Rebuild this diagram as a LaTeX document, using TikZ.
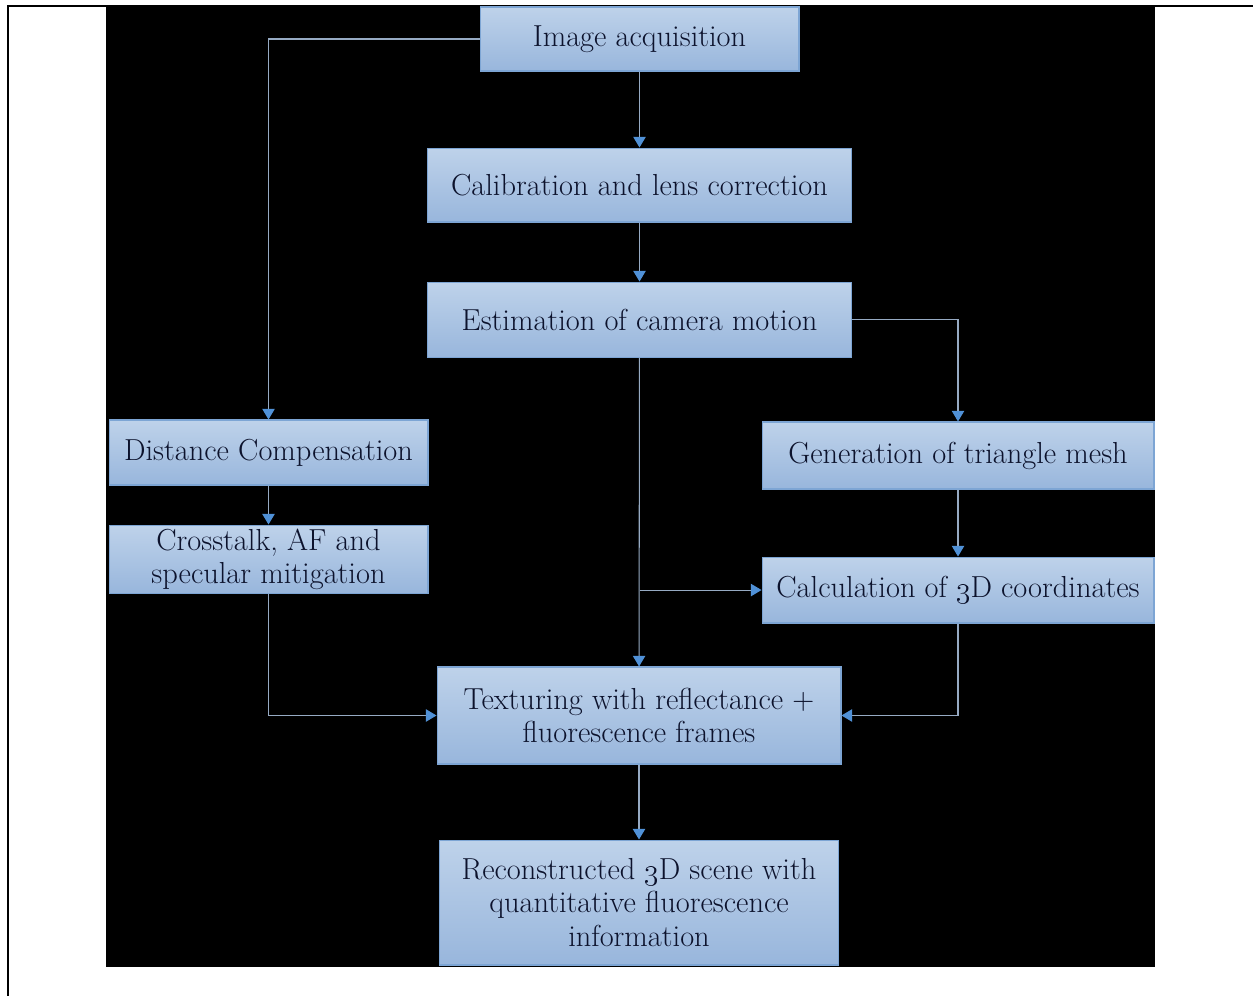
\documentclass[tikz,border=0pt]{standalone}
\usepackage{tikz}
\usetikzlibrary{arrows.meta, positioning}
\definecolor{boxtop}{RGB}{190,210,234}
\definecolor{boxbot}{RGB}{152,182,220}
\definecolor{boxedge}{RGB}{125,165,212}
\definecolor{linkgrey}{RGB}{150,170,195}
\definecolor{tipblue}{RGB}{80,145,215}
\definecolor{inkblue}{RGB}{12,18,44}

\begin{document}
\begin{tikzpicture}[
    x=0.02cm, y=-0.02cm,
    node distance=1.2cm and 1.2cm,
    stepbox/.style={rectangle, draw=boxedge, line width=0.6pt, top color=boxtop, bottom color=boxbot, text=inkblue, align=center, inner sep=2pt, font=\fontsize{17.3}{19}\selectfont},
    link/.style={draw=linkgrey, line width=0.6pt, -{Triangle[color=tipblue, width=7pt, length=6pt]}},
]
    % page frame and dark backdrop
    \useasboundingbox (0,0) rectangle (1253,996);
    \fill[black] (106,5) rectangle (1155,967);
    \draw[line width=1.2pt] (8,996) -- (8,6) -- (1253,6);

    % Main column
    \node[stepbox, minimum width=6.38cm, minimum height=1.28cm] (acq) at (639.5,39) {Image acquisition};
    \node[stepbox, minimum width=8.48cm, minimum height=1.48cm, below=1.52cm of acq] (calib) {Calibration and lens correction};
    \node[stepbox, minimum width=8.48cm, minimum height=1.5cm, below=1.18cm of calib] (motion) {Estimation of camera motion};
    \node[stepbox, minimum width=8.08cm, minimum height=1.94cm] (tex) at (639,715.5) {Texturing with reflectance +\\fluorescence frames};
    \node[stepbox, minimum width=7.98cm, minimum height=2.5cm, below=1.5cm of tex] (recon) {Reconstructed \oldstylenums{3}D scene with\\quantitative fluorescence\\information};

    % Left branch
    \node[stepbox, minimum width=6.38cm, minimum height=1.3cm] (dist) at (268.5,452.5) {Distance Compensation};
    \node[stepbox, minimum width=6.38cm, minimum height=1.3cm, below=0.78cm of dist] (xtalk) {Crosstalk, AF and\\specular mitigation};

    % Right branch
    \node[stepbox, minimum width=7.84cm, minimum height=1.34cm] (mesh) at (958,455.5) {Generation of triangle mesh};
    \node[stepbox, minimum width=7.84cm, minimum height=1.32cm, below=1.34cm of mesh] (coord) {Calculation of \oldstylenums{3}D coordinates};

    % Connectors
    \draw[link] (acq) -- (calib);
    \draw[link] (calib) -- (motion);
    \draw[link] (motion) -- (tex);
    \draw[link] (tex) -- (recon);
    \draw[link] (acq.west) -| (dist.north);
    \draw[link] (dist) -- (xtalk);
    \draw[link] (xtalk.south) |- (tex.west);
    \draw[link] (motion.east) -| (mesh.north);
    \draw[link] (mesh) -- (coord);
    \draw[link] (coord.south) |- (tex.east);
    \draw[link] (motion.south |- coord.west) -- (coord.west);
\end{tikzpicture}
\end{document}
